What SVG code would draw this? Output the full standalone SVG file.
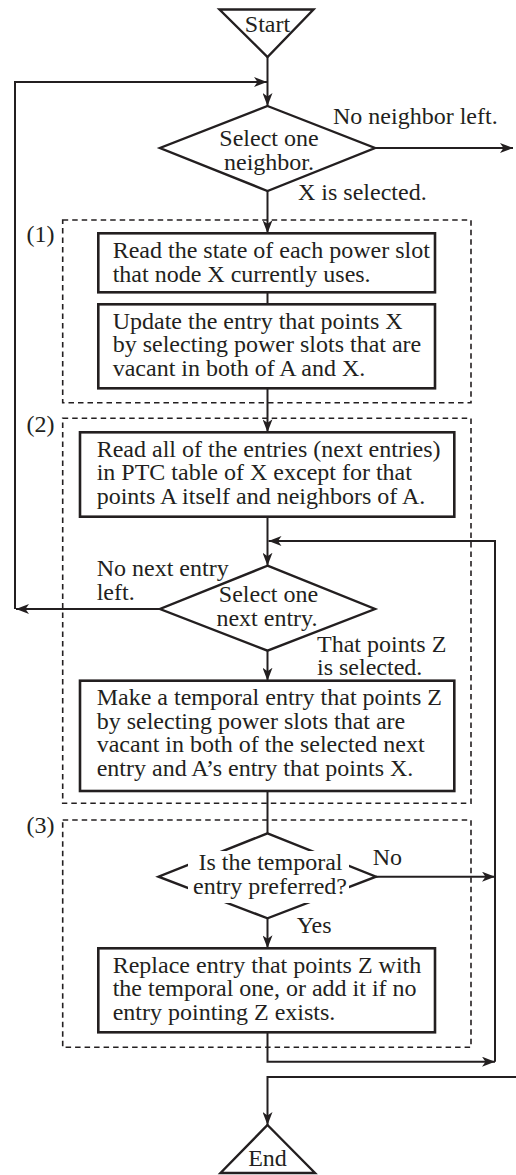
<svg xmlns="http://www.w3.org/2000/svg" width="516" height="1175" viewBox="0 0 516 1175">
<style>
text{font-family:"Liberation Serif","Times New Roman",serif;font-size:24px;fill:#231f20}
.c{text-anchor:middle}
.box{fill:#fff;stroke:#231f20;stroke-width:2.6}
.shape{fill:#fff;stroke:#231f20;stroke-width:2.4;stroke-linejoin:miter}
.dash{fill:none;stroke:#231f20;stroke-width:1.6;stroke-dasharray:5.5 4}
.conn path{fill:none;stroke:#231f20;stroke-width:2}
.arr{marker-end:url(#ah)}
</style>
<defs>
<marker id="ah" markerUnits="userSpaceOnUse" markerWidth="14" markerHeight="10" refX="13" refY="5" orient="auto">
<path d="M0,0 L13,5 L0,10 L3.5,5 Z" fill="#231f20"/>
</marker>
</defs>
<rect width="516" height="1175" fill="#fff"/>

<g id="group1">
<rect class="dash" x="62.7" y="220" width="408.3" height="182.7"/>
<text x="26.5" y="241.5">(1)</text>
</g>
<g id="group2">
<rect class="dash" x="62.7" y="418.3" width="408.3" height="385"/>
<text x="26.5" y="431.5">(2)</text>
</g>
<g id="group3">
<rect class="dash" x="62.7" y="820" width="408.3" height="227.3"/>
<text x="26.5" y="833">(3)</text>
</g>

<g id="connectors" class="conn">
<path class="arr" d="M267.5,57 V106"/>
<path class="arr" d="M160,609 H16"/>
<path class="arr" d="M15,609 V82 H267"/>
<path class="arr" d="M375,148 H513"/>
<path class="arr" d="M267.5,191 V233.3"/>
<path d="M267.5,292.3 V304.3"/>
<path class="arr" d="M267.5,388.3 V432.3"/>
<path class="arr" d="M267.5,516.7 V565.7"/>
<path class="arr" d="M495,1061.7 V541 H268.5"/>
<path class="arr" d="M267.5,650.7 V680.7"/>
<path d="M267.5,791 V833.3"/>
<path class="arr" d="M376,876.7 H495"/>
<path class="arr" d="M267.5,918.3 V948.3"/>
<path class="arr" d="M267.5,1032.3 V1061.7 H495"/>
<path class="arr" d="M516,1077 H267.5 V1125"/>
</g>

<g id="start">
<polygon class="shape" points="219.5,9.5 313.5,9.5 267.5,57"/>
<text class="c" x="267.5" y="31.5">Start</text>
</g>

<g id="select-neighbor">
<polygon class="shape" points="267.5,106 375,148 267.5,191 160,148"/>
<text class="c" x="269" y="145.5">Select one</text>
<text class="c" x="269" y="170">neighbor.</text>
<text x="333" y="124">No neighbor left.</text>
<text x="298" y="200">X is selected.</text>
</g>

<g id="read-state">
<rect class="box" x="98.3" y="233.3" width="336.7" height="59"/>
<text x="112.7" y="258.3">Read the state of each power slot</text>
<text x="112.7" y="281.8">that node X currently uses.</text>
</g>

<g id="update-entry">
<rect class="box" x="98.3" y="304.3" width="336.7" height="84"/>
<text x="112.7" y="328.5">Update the entry that points X</text>
<text x="112.7" y="352">by selecting power slots that are</text>
<text x="112.7" y="375.5">vacant in both of A and X.</text>
</g>

<g id="read-entries">
<rect class="box" x="80" y="432.3" width="374.3" height="84.4"/>
<text x="96.7" y="456.7">Read all of the entries (next entries)</text>
<text x="96.7" y="480.2">in PTC table of X except for that</text>
<text x="96.7" y="503.7">points A itself and neighbors of A.</text>
</g>

<g id="select-next">
<polygon class="shape" points="267.5,565.7 375,609 267.5,650.7 160,609"/>
<text class="c" x="268.5" y="602">Select one</text>
<text class="c" x="267" y="625.5">next entry.</text>
<text x="96.7" y="576">No next entry</text>
<text x="96.7" y="599.5">left.</text>
<text x="317" y="651.7">That points Z</text>
<text x="317" y="675.2">is selected.</text>
</g>

<g id="make-temporal">
<rect class="box" x="80" y="680.7" width="374.3" height="110.3"/>
<text x="96.7" y="705">Make a temporal entry that points Z</text>
<text x="96.7" y="728.5">by selecting power slots that are</text>
<text x="96.7" y="752">vacant in both of the selected next</text>
<text x="96.7" y="775.5">entry and A’s entry that points X.</text>
</g>

<g id="preferred">
<polygon class="shape" points="267.5,833.3 376,876.7 267.5,918.3 158.5,876.7"/>
<rect x="188" y="851" width="161" height="52" fill="#fff"/>
<text class="c" x="270.5" y="870">Is the temporal</text>
<text class="c" x="270" y="893.5">entry preferred?</text>
<text x="372.7" y="865">No</text>
<text x="296.7" y="933.3">Yes</text>
</g>

<g id="replace-entry">
<rect class="box" x="98.3" y="948.3" width="336.7" height="84"/>
<text x="112.7" y="972.7">Replace entry that points Z with</text>
<text x="112.7" y="996.2">the temporal one, or add it if no</text>
<text x="112.7" y="1019.7">entry pointing Z exists.</text>
</g>

<g id="end">
<polygon class="shape" points="267.5,1125 315,1173 220.5,1173"/>
<text class="c" x="267.5" y="1166">End</text>
</g>
</svg>
